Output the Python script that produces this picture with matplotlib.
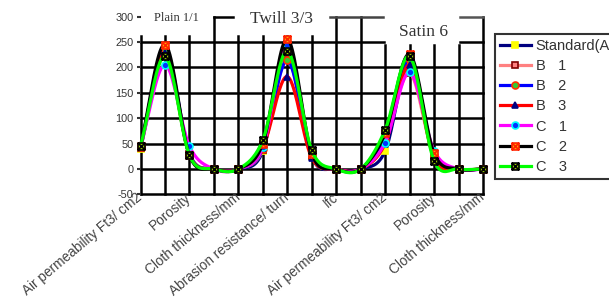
import numpy as np
import matplotlib
matplotlib.use("Agg")
import matplotlib.pyplot as plt
from matplotlib.path import Path

# ---------------- data ----------------
categories = [
    "Air permeability Ft3/ cm2", "Abrasion resistance/ turn", "Porosity", "Ifc", "Cloth thickness/mm",
    "Air permeability Ft3/ cm2", "Abrasion resistance/ turn", "Porosity", "Ifc", "Cloth thickness/mm",
    "Air permeability Ft3/ cm2", "Abrasion resistance/ turn", "Porosity", "Ifc", "Cloth thickness/mm",
]
shown_labels = categories[::2]

standard = [40, 230, 28, 0, 0, 35, 240, 25, 0, 0, 35, 210, 22, 0, 0]
b1 = [42, 225, 30, 0, 0, 38, 217, 25, 0, 0, 60, 189, 25, 0, 0]
b2 = [43, 235, 30, 0, 0, 40, 214, 27, 0, 0, 58, 215, 28, 0, 0]
b3 = [44, 228, 28, 0, 0, 42, 182, 22, 0, 0, 50, 205, 22, 0, 0]
c1 = [45, 205, 45, 0, 0, 43, 245, 30, 0, 0, 52, 190, 36, 0, 0]
c2 = [45, 245, 27, 0, 0, 50, 256, 30, 0, 0, 70, 226, 31, 0, 0]
c3 = [45, 222, 27, 0, 0, 57, 232, 37, 0, 0, 77, 222, 16, 0, 0]

series_names = ["Standard(A)", "B   1", "B   2", "B   3", "C   1", "C   2", "C   3"]
yticks = [-50, 0, 50, 100, 150, 200, 250, 300]

# ---------------- styles ----------------
boxx = Path([(-1, -1), (1, -1), (1, 1), (-1, 1), (-1, -1), (-1, -1), (1, 1), (-1, 1), (1, -1)],
            [Path.MOVETO, Path.LINETO, Path.LINETO, Path.LINETO, Path.CLOSEPOLY,
             Path.MOVETO, Path.LINETO, Path.MOVETO, Path.LINETO])
styles = [
    dict(color="#000080", marker="s", mfc="#FFFF00", mec="#FFFF00", ms=5),
    dict(color="#FF8080", marker="s", mfc="#FF8080", mec="#800000", ms=4),
    dict(color="#0000FF", marker="o", mfc="#33CC33", mec="#FF3300", ms=5),
    dict(color="#FF0000", marker="^", mfc="#000080", mec="#000080", ms=5),
    dict(color="#FF00FF", marker="o", mfc="#0033FF", mec="#00FFFF", ms=5),
    dict(color="#000000", marker=boxx, mfc="#FFAA00", mec="#FF2200", ms=5),
    dict(color="#00FF00", marker=boxx, mfc="#99CC00", mec="#000000", ms=5),
]

plt.rcParams["font.family"] = ["Liberation Sans", "DejaVu Sans"]

fig = plt.figure(figsize=(6.09, 2.97), dpi=100)
W, H = 609, 297
x0, x1 = 140.5, 483
ytop, ybot = 16.6, 194.4
ax = fig.add_axes([x0 / W, 1 - ybot / H, (x1 - x0) / W, (ybot - ytop) / H])
ax.set_xlim(0, len(categories) - 1)
ax.set_ylim(-50, 300)
for s in ax.spines.values():
    s.set_visible(False)

n = len(categories)
xs = np.arange(n)

# grid lines (horizontal)
glw = 1.8
for v in yticks[:-1]:
    if v == 250:
        ax.plot([0, 9.95], [v, v], color="black", lw=glw, zorder=1, clip_on=False)
        ax.plot([13.05, 14], [v, v], color="black", lw=glw, zorder=1, clip_on=False)
    else:
        ax.plot([0, 14], [v, v], color="black", lw=glw, zorder=1, clip_on=False)
# vertical grid lines
for i in xs:
    if i in (3, 8, 9, 14):
        top = 300
    elif 10 <= i <= 13:
        top = 245
    else:
        top = 262
    ax.plot([i, i], [-50, top], color="black", lw=glw, zorder=1, clip_on=False)
# bracket lines
ax.plot([3, 3.8], [300, 300], color="black", lw=glw, zorder=1, clip_on=False)
ax.plot([7.76, 9.92], [300, 300], color="#444444", lw=glw, zorder=1, clip_on=False)
ax.plot([13.05, 14], [300, 300], color="#555555", lw=glw, zorder=1, clip_on=False)


def smooth(vals, k=20):
    v = np.asarray(vals, float)
    m = np.empty_like(v)
    m[1:-1] = (v[2:] - v[:-2]) / 2
    m[0] = v[1] - v[0]
    m[-1] = v[-1] - v[-2]
    xx, yy = [], []
    for i in range(len(v) - 1):
        t = np.linspace(0, 1, k, endpoint=False)
        h00 = 2 * t**3 - 3 * t**2 + 1
        h10 = t**3 - 2 * t**2 + t
        h01 = -2 * t**3 + 3 * t**2
        h11 = t**3 - t**2
        xx.extend(i + t)
        yy.extend(h00 * v[i] + h10 * m[i] + h01 * v[i + 1] + h11 * m[i + 1])
    xx.append(len(v) - 1)
    yy.append(v[-1])
    return np.array(xx), np.array(yy), list(range(0, len(xx), k))


all_series = [standard, b1, b2, b3, c1, c2, c3]
handles = []
for vals, name, st in zip(all_series, series_names, styles):
    sx, sy, me = smooth(vals)
    ln, = ax.plot(sx, sy, lw=2.3, label=name, markevery=me, clip_on=False, zorder=3,
                  color=st["color"], marker=st["marker"], markerfacecolor=st["mfc"],
                  markeredgecolor=st["mec"], markersize=st["ms"], markeredgewidth=1.2)
    handles.append(ln)

# ticks
ax.set_yticks(yticks)
ax.set_yticklabels([str(v) for v in yticks], fontsize=7.8, color="#333333")
ax.tick_params(axis="y", length=3, width=1.5, pad=2, colors="#333333")
ax.set_xticks(xs[::2])
ax.set_xticklabels(shown_labels, rotation=40, ha="right", va="center",
                   rotation_mode="anchor", fontsize=9.8, color="#444444")
ax.tick_params(axis="x", length=0, pad=1)

# annotations
ax.text(1.45, 298, "Plain 1/1", fontsize=9, family=["Liberation Serif", "DejaVu Serif"],
        color="#333333", ha="center", va="center")
ax.text(5.75, 295, "Twill 3/3", fontsize=12.5, family=["Liberation Serif", "DejaVu Serif"],
        color="#333333", ha="center", va="center")
ax.text(11.55, 270, "Satin 6", fontsize=12.5, family=["Liberation Serif", "DejaVu Serif"],
        color="#333333", ha="center", va="center")

leg = fig.legend(handles=handles, loc="upper left", bbox_to_anchor=(495 / W, 1 - 34 / H),
                 frameon=True, fancybox=False, edgecolor="black", fontsize=10.5,
                 handlelength=2.1, handletextpad=0.35, labelspacing=0.42, borderpad=0.35,
                 borderaxespad=0)
leg.get_frame().set_linewidth(1.5)
for t in leg.get_texts():
    t.set_color("#333333")

fig.savefig("out.png", dpi=100)
